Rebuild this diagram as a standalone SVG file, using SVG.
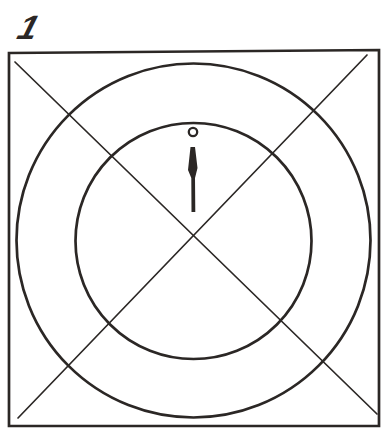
<svg xmlns="http://www.w3.org/2000/svg" width="382" height="428" viewBox="0 0 382 428">
<style>
.ln{fill:none;stroke:#2b2725;stroke-linecap:round}
.thick{stroke-width:2.7}
.thin{stroke-width:1.7}
.lbl{font-family:"Liberation Sans",Arial,sans-serif;font-size:34px;font-weight:bold;fill:#2b2725}
</style>
<rect width="382" height="428" fill="#ffffff"/>
<g id="label"><text class="lbl" x="0" y="0" transform="translate(14,39) skewX(-26)">1</text></g>
<g id="frame"><path class="ln thick" d="M9,53 L379,50 L379,426 L9,426 Z"/></g>
<g id="connectors">
<line class="ln thin" x1="15" y1="62" x2="377" y2="414"/>
<line class="ln thin" x1="367" y1="55" x2="18" y2="418"/>
</g>
<g id="outer-circle"><circle class="ln thick" cx="193.5" cy="240.5" r="177"/></g>
<g id="inner-circle"><circle class="ln thick" cx="193.5" cy="241" r="118"/></g>
<g id="pivot"><circle class="ln" stroke-width="2.3" cx="193" cy="132" r="4.2"/></g>
<g id="needle">
<path d="M191.5,212 L191.3,178 L188,170 L190.5,147 L195,147 L197.5,168 L195,178 L195.3,212 Z" fill="#2b2725"/>
</g>
</svg>
